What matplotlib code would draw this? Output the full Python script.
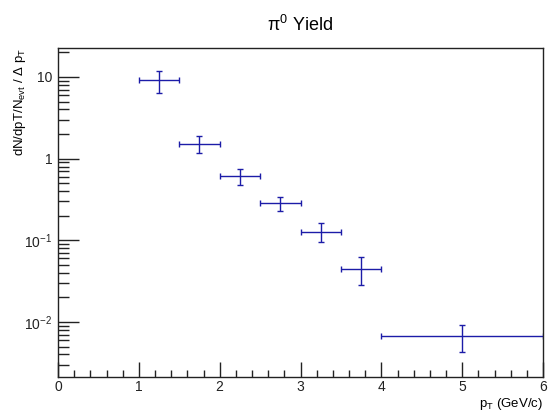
import math
import matplotlib
matplotlib.use('Agg')
import matplotlib.pyplot as plt
from matplotlib.ticker import FixedLocator, LogLocator, NullFormatter, FuncFormatter

plt.rcParams['font.family'] = ['Liberation Sans', 'DejaVu Sans']
plt.rcParams['mathtext.fontset'] = 'custom'
plt.rcParams['mathtext.rm'] = 'Liberation Sans'
plt.rcParams['mathtext.it'] = 'Liberation Sans'
plt.rcParams['mathtext.default'] = 'regular'

# pT bins (GeV/c) and yield per bin
pt_center = [1.25, 1.75, 2.25, 2.75, 3.25, 3.75, 5.0]
pt_halfwidth = [0.25, 0.25, 0.25, 0.25, 0.25, 0.25, 1.0]
yield_val = [9.1, 1.53, 0.62, 0.287, 0.127, 0.045, 0.0068]
yield_up = [11.9, 1.87, 0.75, 0.343, 0.163, 0.0627, 0.0092]
yield_lo = [6.3, 1.16, 0.48, 0.231, 0.0955, 0.0287, 0.00426]

err_lo = [v - l for v, l in zip(yield_val, yield_lo)]
err_hi = [u - v for v, u in zip(yield_val, yield_up)]

fig = plt.figure(figsize=(5.5, 4.12), dpi=100)
ax = fig.add_axes([58 / 550, 1 - 377 / 412, 485 / 550, 329 / 412])

ax.errorbar(pt_center, yield_val, xerr=pt_halfwidth, yerr=[err_lo, err_hi],
            fmt='none', ecolor='#1c1ca8', elinewidth=1.0, capsize=2.2, capthick=1.0)

ax.set_yscale('log')
ax.set_xlim(0, 6)
ax.set_ylim(0.00212, 22.6)

ax.xaxis.set_major_locator(FixedLocator(range(0, 7)))
ax.xaxis.set_minor_locator(FixedLocator([i * 0.2 for i in range(31)]))
ax.yaxis.set_major_locator(LogLocator(base=10))
ax.yaxis.set_minor_locator(LogLocator(base=10, subs=range(2, 10)))
ax.yaxis.set_minor_formatter(NullFormatter())


def log_label(v, pos):
    if v == 1:
        return '1'
    if v == 10:
        return '10'
    e = int(round(math.log10(v)))
    return r'$10^{%d}$' % e


ax.yaxis.set_major_formatter(FuncFormatter(log_label))

ax.tick_params(which='both', direction='in', top=False, right=False, labelsize=10, colors='#222222')
ax.tick_params(axis='y', which='major', length=15, width=1.0, pad=4)
ax.tick_params(axis='y', which='minor', length=8, width=1.0)
ax.tick_params(axis='x', which='major', length=11, width=1.0, pad=2.5)
ax.tick_params(axis='x', which='minor', length=5, width=1.0)
for s in ax.spines.values():
    s.set_linewidth(1.0)
    s.set_color('#222222')

ax.set_title(r'$\pi^0$ Yield', fontsize=13, pad=12)
fig.text(543 / 550, 1 - 396 / 412, r'$p_{T}$ (GeV/c)', ha='right', va='top', fontsize=9.5)
fig.text(20 / 550, 1 - 48 / 412, r'dN/dpT/$N_{evt}$ / $\Delta$ $p_{T}$', rotation=90,
         ha='center', va='top', fontsize=9.5)

fig.savefig('out.png', dpi=100)
